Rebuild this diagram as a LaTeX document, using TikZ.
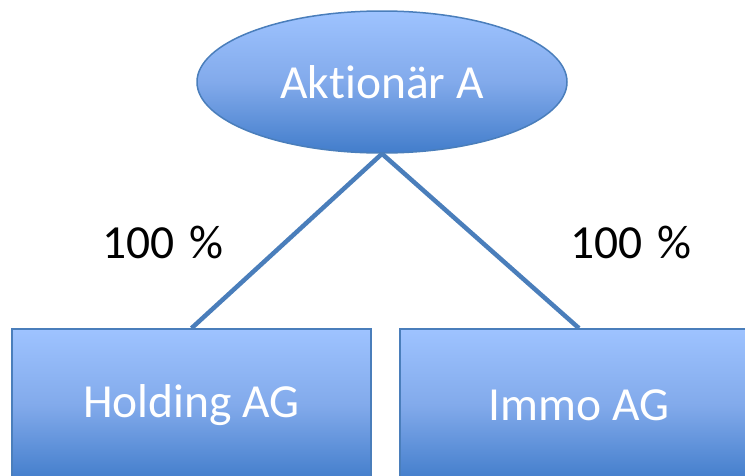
\documentclass[tikz,border=0pt]{standalone}
\usepackage{fontspec}
\setmainfont{Carlito}[Ligatures=NoCommon]
\usetikzlibrary{shapes.geometric}
\definecolor{lighttop}{RGB}{158,195,255}
\definecolor{midblue}{RGB}{130,170,235}
\definecolor{darkbot}{RGB}{66,125,203}
\definecolor{edgeblue}{RGB}{74,126,187}
\tikzset{
  shapebox/.style={draw=edgeblue, line width=1.5pt, top color=lighttop, bottom color=darkbot, middle color=midblue,
    text=white, font=\fontsize{47.5}{52}\selectfont, inner sep=0pt},
  linkline/.style={draw=edgeblue, line width=4.5pt},
  pct/.style={font=\fontsize{47.5}{52}\selectfont, text=black, inner sep=0pt}
}
\begin{document}
\begin{tikzpicture}[x=1pt,y=-1pt]
\useasboundingbox (0,0) rectangle (745,475);
\clip (0,0) rectangle (745,475);
\node[shapebox, ellipse, minimum width=370pt, minimum height=142pt] (ell) at (382,82) {Aktionär A};
\node[shapebox, rectangle, minimum width=359pt, minimum height=152pt] (hold) at (191.5,405) {Holding AG};
\node[shapebox, rectangle, minimum width=358pt, minimum height=152pt] (immo) at (579,405) {Immo AG};
\draw[linkline] (ell.south) -- (hold.north);
\draw[linkline] (ell.south) -- (immo.north);
\node[pct] (p1) at (163,242) {100\hspace{0.3em}\%};
\node[pct] (p2) at (631,242) {100\hspace{0.3em}\%};
\end{tikzpicture}
\end{document}
